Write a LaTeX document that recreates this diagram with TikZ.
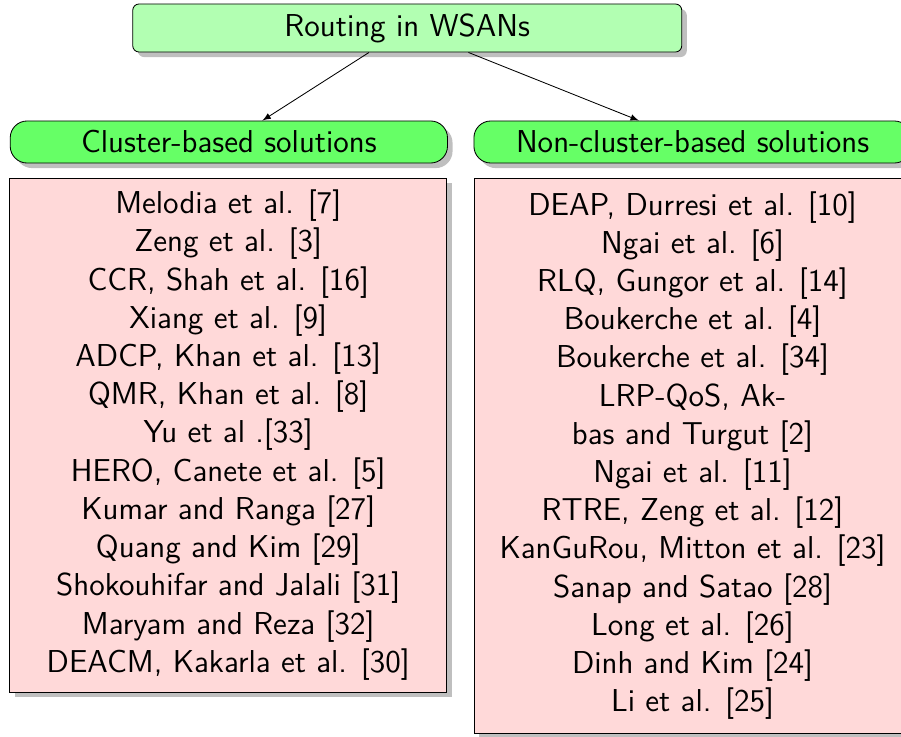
\documentclass[tikz,border=0pt]{standalone}
\usepackage{fontspec}
\usepackage{tikz}
\usetikzlibrary{shadows}

\begin{document}
\begin{tikzpicture}[
    font=\sffamily\fontsize{15}{18.1}\selectfont,
    >=latex,
    shade/.style={drop shadow={shadow xshift=2.4pt,shadow yshift=-2.4pt,fill=black!50,opacity=.5}},
    rootnode/.style={draw,rounded corners=3pt,fill=green!30,minimum width=9.14cm,minimum height=0.80cm,shade},
    catnode/.style={draw,rounded corners=8pt,fill=green!60,minimum width=7.28cm,minimum height=0.70cm,shade},
    listnode/.style={draw,fill=red!15,minimum width=7.28cm,align=center,inner sep=0pt,shade}]
    \useasboundingbox (0,0) rectangle (15,-12.254);

    \node[rootnode] (root) at (6.78,-0.466) {Routing in WSANs};
    \node[catnode] (clus) at (3.81,-2.364) {Cluster-based solutions};
    \node[catnode] (nonclus) at (11.53,-2.364) {Non-cluster-based solutions};

    \node[listnode,minimum height=8.56cm] (cluslist) at (3.80,-7.243) {Melodia et al. [7]\\
        Zeng et al. [3]\\
        CCR, Shah et al. [16]\\
        Xiang et al. [9]\\
        ADCP, Khan et al. [13]\\
        QMR, Khan et al. [8]\\
        Yu et al .[33]\\
        HERO, Canete et al. [5]\\
        Kumar and Ranga [27]\\
        Quang and Kim [29]\\
        Shokouhifar and Jalali [31]\\
        Maryam and Reza [32]\\
        DEACM, Kakarla et al. [30]};
    \node[listnode,minimum height=9.24cm] (nonclist) at (11.53,-7.584) {DEAP, Durresi et al. [10]\\
        Ngai et al. [6]\\
        RLQ, Gungor et al. [14]\\
        Boukerche et al. [4]\\
        Boukerche et al. [34]\\
        LRP-QoS, Ak-\\
        bas and Turgut [2]\\
        Ngai et al. [11]\\
        RTRE, Zeng et al. [12]\\
        KanGuRou, Mitton et al. [23]\\
        Sanap and Satao [28]\\
        Long et al. [26]\\
        Dinh and Kim [24]\\
        Li et al. [25]};

    \draw[->] (root) edge (clus) ;
    \draw[->] (root) edge (nonclus) ;
\end{tikzpicture}
\end{document}
